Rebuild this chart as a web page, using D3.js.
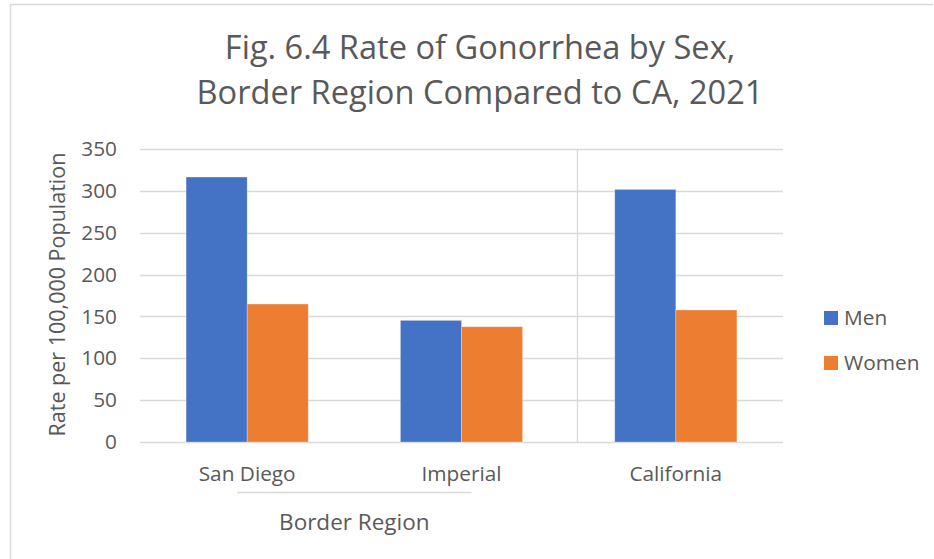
<!DOCTYPE html>
<html>
<head>
<meta charset="utf-8">
<script src="https://cdn.jsdelivr.net/npm/d3@7"></script>
<style>
  body { margin: 0; background: #fff; }
  text { font-family: "Open Sans", sans-serif; fill: #595959; }
</style>
</head>
<body>
<script>
// data
const categories = ["San Diego", "Imperial", "California"];
const series = ["Men", "Women"];
const men = [316.5, 145.3, 301.7];
const women = [164.8, 137.7, 157.7];
const yTicks = [0, 50, 100, 150, 200, 250, 300, 350];
const titleLines = ["Fig. 6.4 Rate of Gonorrhea by Sex,", "Border Region Compared to CA, 2021"];
const groupLabel = "Border Region";
const groupMembers = ["San Diego", "Imperial"];
const colors = ["#4472C4", "#ED7D31"];

let width = 934, height = 559;
let margin = {top: 149, left: 140, right: 151, bottom: 117};

let svg = d3.select("body").append("svg")
  .attr("width", width)
  .attr("height", height);

// chart area border (right/bottom sides fall outside the picture)
svg.append("path")
  .attr("d", "M10.5,560 V4.5 H933")
  .attr("fill", "none")
  .attr("stroke", "#d9d9d9")
  .attr("stroke-width", 1.5);

let x0 = d3.scaleBand().domain(categories)
  .range([margin.left, width - margin.right]);
let groupW = x0.bandwidth() * 0.57;
let x1 = d3.scaleBand().domain(series).range([0, groupW]);
let y = d3.scaleLinear().domain([0, 350]).range([height - margin.bottom, margin.top]);

// gridlines
svg.append("g").selectAll("line")
  .data(yTicks)
  .enter().append("line")
  .attr("x1", margin.left)
  .attr("x2", width - margin.right)
  .attr("y1", d => Math.round(y(d)) + 0.5)
  .attr("y2", d => Math.round(y(d)) + 0.5)
  .attr("stroke", "#d9d9d9")
  .attr("stroke-width", 1.3);

// separator between border counties and state
let sepX = Math.round(x0("California") + x0.bandwidth() * 0.04) + 0.5;
svg.append("line")
  .attr("x1", sepX).attr("x2", sepX)
  .attr("y1", y(350)).attr("y2", y(0))
  .attr("stroke", "#d9d9d9")
  .attr("stroke-width", 1.3);

// y axis labels
let yAxis = d3.axisLeft(y).tickValues(yTicks).tickSize(0).tickPadding(23);
let ya = svg.append("g")
  .attr("transform", "translate(" + margin.left + ",0)")
  .call(yAxis);
ya.select(".domain").remove();
ya.selectAll("text")
  .style("font-size", "20.8px")
  .style("font-family", "'Open Sans', sans-serif")
  .attr("fill", "#595959");

svg.append("text")
  .attr("transform", "translate(65," + (y(175) - 1) + ") rotate(-90)")
  .attr("text-anchor", "middle")
  .style("font-size", "21.5px")
  .text("Rate per 100,000 Population");

// bars
let rows = categories.map((c, i) => ({cat: c, values: [men[i], women[i]]}));
let groups = svg.append("g").selectAll("g")
  .data(rows)
  .enter().append("g")
  .attr("transform", d => "translate(" + (x0(d.cat) + (x0.bandwidth() - groupW) / 2) + ",0)");

groups.selectAll("rect")
  .data(d => d.values.map((v, j) => ({key: series[j], value: v, j: j})))
  .enter().append("rect")
  .attr("x", d => x1(d.key))
  .attr("width", x1.bandwidth())
  .attr("y", d => y(d.value))
  .attr("height", d => y(0) - y(d.value))
  .attr("fill", d => colors[d.j])
  .attr("stroke", "#fff")
  .attr("stroke-opacity", 0.35)
  .attr("stroke-width", 0.8);

// category labels
svg.append("g").selectAll("text")
  .data(categories)
  .enter().append("text")
  .attr("x", d => x0(d) + x0.bandwidth() / 2)
  .attr("y", 481)
  .attr("text-anchor", "middle")
  .style("font-size", "20.8px")
  .text(d => d);

// multi-level group line + label
let gx1 = x0(groupMembers[0]) + x0.bandwidth() / 2 - 10;
let gx2 = x0(groupMembers[1]) + x0.bandwidth() / 2 + 10;
svg.append("line")
  .attr("x1", gx1).attr("x2", gx2)
  .attr("y1", 492.5).attr("y2", 492.5)
  .attr("stroke", "#d9d9d9")
  .attr("stroke-width", 1.3);
svg.append("text")
  .attr("x", (gx1 + gx2) / 2)
  .attr("y", 530)
  .attr("text-anchor", "middle")
  .style("font-size", "22.5px")
  .text(groupLabel);

// title
svg.append("g").selectAll("text")
  .data(titleLines)
  .enter().append("text")
  .attr("x", 480)
  .attr("y", (d, i) => 59 + i * 45)
  .attr("text-anchor", "middle")
  .style("font-size", "32.6px")
  .text(d => d);

// legend
let legend = svg.append("g").selectAll("g")
  .data(series)
  .enter().append("g")
  .attr("transform", (d, i) => "translate(824," + (311 + i * 45) + ")");
legend.append("rect")
  .attr("width", 14).attr("height", 14)
  .attr("fill", (d, i) => colors[i]);
legend.append("text")
  .attr("x", 20).attr("y", 14)
  .style("font-size", "20.8px")
  .text(d => d);
</script>
</body>
</html>
